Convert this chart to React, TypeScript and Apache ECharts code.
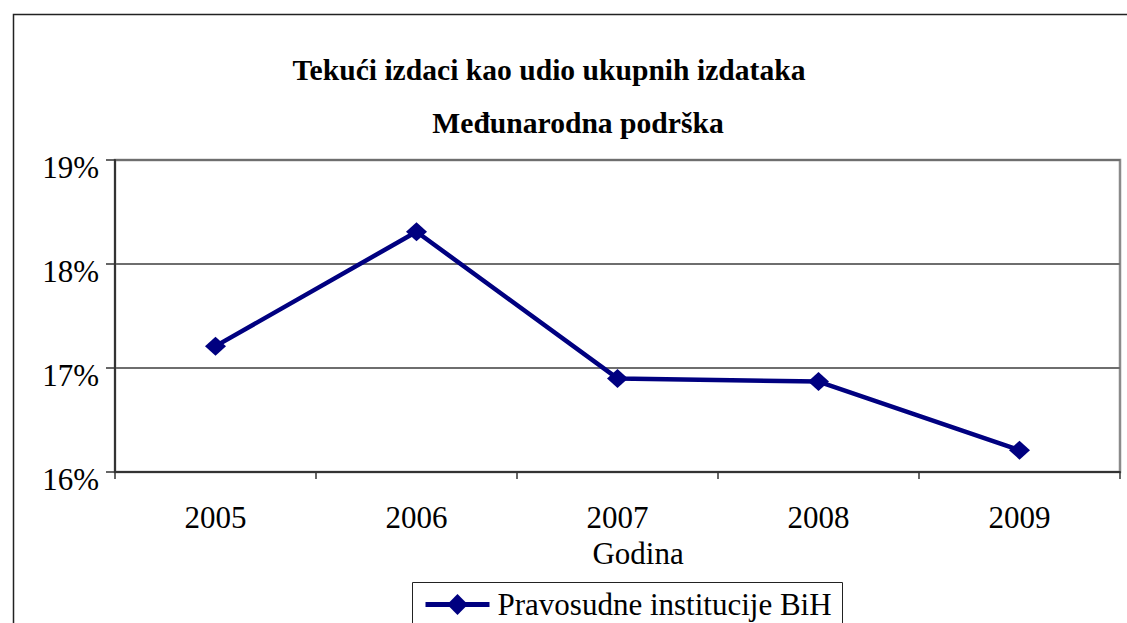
import React, { useEffect, useRef } from "react";
import * as echarts from "echarts";

const years = ["2005", "2006", "2007", "2008", "2009"];
const seriesName = "Pravosudne institucije BiH";
const values = [17.21, 18.31, 16.9, 16.87, 16.21];
const titleLine1 = "Tekući izdaci kao udio ukupnih izdataka";
const titleLine2 = "Međunarodna podrška";
const xAxisTitle = "Godina";

const FONT = "Liberation Serif";

export default function App() {
  const ref = useRef<HTMLDivElement>(null);
  useEffect(() => {
    if (!ref.current) return;
    const chart = echarts.init(ref.current, undefined, { renderer: "svg" });
    chart.setOption({
      animation: false,
      backgroundColor: "#ffffff",
      textStyle: { fontFamily: FONT },
      grid: {
        left: 115,
        top: 160,
        width: 1005,
        height: 312,
        show: true,
        borderColor: "#8a8a8a",
        borderWidth: 2.5,
        backgroundColor: "transparent",
      },
      xAxis: {
        type: "category",
        data: years,
        boundaryGap: true,
        axisLine: { lineStyle: { color: "#333", width: 2 } },
        axisTick: { show: true, length: 7, inside: false, lineStyle: { color: "#333", width: 1.5 } },
        axisLabel: { fontFamily: FONT, fontSize: 31, color: "#000", margin: 30 },
        splitLine: { show: false },
      },
      yAxis: {
        type: "value",
        min: 16,
        max: 19,
        interval: 1,
        axisLine: { show: true, lineStyle: { color: "#333", width: 2 } },
        axisTick: { show: true, length: 9, lineStyle: { color: "#333", width: 1.5 } },
        axisLabel: {
          fontFamily: FONT,
          fontSize: 31,
          color: "#000",
          margin: 16,
          formatter: (v: number) => "{a|" + v + "%}",
          rich: {
            a: {
              fontFamily: FONT,
              fontSize: 31,
              color: "#000",
              padding: [14, 0, 0, 0],
            },
          },
        },
        splitLine: { show: true, lineStyle: { color: "#6e6e6e", width: 2 } },
      },
      legend: {
        data: [seriesName],
        left: 423,
        top: 589,
        padding: 0,
        itemWidth: 64,
        itemHeight: 26,
        lineStyle: { width: 5 },
        textStyle: { fontFamily: FONT, fontSize: 31, color: "#000", padding: [0, 0, 0, 3] },
      },
      series: [
        {
          name: seriesName,
          type: "line",
          data: values,
          symbol: "diamond",
          symbolSize: [21, 19],
          lineStyle: { color: "#000080", width: 4.5 },
          itemStyle: { color: "#000080" },
        },
      ],
      graphic: [
        {
          type: "rect",
          shape: { x: 13.5, y: 14.5, width: 1200, height: 700 },
          style: { fill: "none", stroke: "#222", lineWidth: 1.5 },
          z: -10,
        },
        {
          type: "rect",
          shape: { x: 412.5, y: 582.5, width: 430, height: 80 },
          style: { fill: "none", stroke: "#222", lineWidth: 1 },
        },
        {
          type: "text",
          x: 549,
          y: 70,
          style: {
            text: titleLine1,
            fontFamily: FONT,
            fontSize: 29.6,
            fontWeight: "bold",
            fill: "#000",
            textAlign: "center",
            textVerticalAlign: "middle",
          },
        },
        {
          type: "text",
          x: 578,
          y: 123,
          style: {
            text: titleLine2,
            fontFamily: FONT,
            fontSize: 29.6,
            fontWeight: "bold",
            fill: "#000",
            textAlign: "center",
            textVerticalAlign: "middle",
          },
        },
        {
          type: "text",
          x: 638,
          y: 553,
          style: {
            text: xAxisTitle,
            fontFamily: FONT,
            fontSize: 31,
            fill: "#000",
            textAlign: "center",
            textVerticalAlign: "middle",
          },
        },
      ],
    });
    return () => chart.dispose();
  }, []);
  return (
    <div
      ref={ref}
      style={{ position: "absolute", left: 0, top: 0, width: 1127, height: 623 }}
    />
  );
}
